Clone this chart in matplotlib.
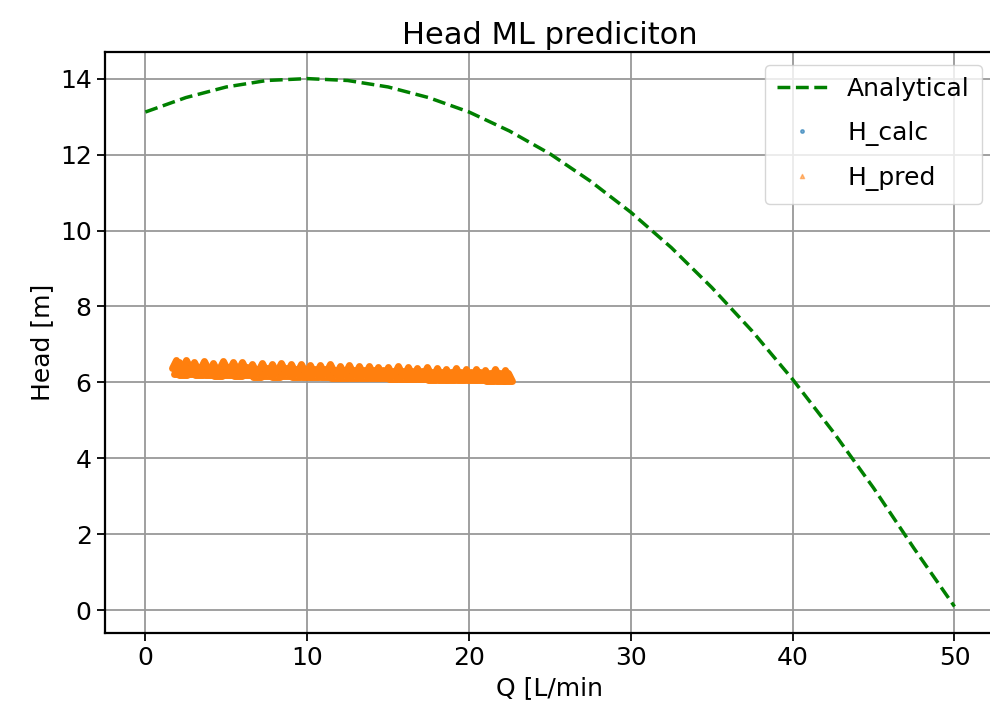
import matplotlib
matplotlib.use("Agg")
import matplotlib.pyplot as plt
from matplotlib.markers import MarkerStyle

# analytical pump curve
Q_an = [0, 2.5, 5, 7.5, 10, 12.5, 15, 17.5, 20, 22.5, 25, 27.5, 30,
        32.5, 35, 37.5, 40, 42.5, 45, 47.5, 50]
H_an = [13.12, 13.5, 13.78, 13.95, 14.0, 13.95, 13.78, 13.5, 13.12, 12.62, 12.02, 11.3, 10.48,
        9.55, 8.5, 7.35, 6.08, 4.7, 3.22, 1.63, 0.1]

# measured / predicted points
Q_data = [1.9, 2.0, 2.1, 2.3, 2.5, 2.8, 3.0, 3.3, 3.6, 3.9, 4.2, 4.5, 4.8, 5.1, 5.4, 5.7,
          6.0, 6.3, 6.6, 6.9, 7.2, 7.5, 7.8, 8.1, 8.4, 8.7, 9.0, 9.3, 9.6, 9.9, 10.2, 10.5,
          10.8, 11.1, 11.4, 11.7, 12.0, 12.3, 12.6, 12.9, 13.2, 13.5, 13.8, 14.1, 14.4, 14.7,
          15.0, 15.3, 15.6, 15.9, 16.2, 16.5, 16.8, 17.1, 17.4, 17.7, 18.0, 18.3, 18.6, 18.9,
          19.2, 19.5, 19.8, 20.1, 20.4, 20.7, 21.0, 21.3, 21.6, 21.9, 22.2, 22.4]
H_calc = [6.40, 6.38, 6.39, 6.37, 6.40, 6.38, 6.37, 6.36, 6.38, 6.36, 6.35, 6.34, 6.37, 6.35, 6.34, 6.33,
          6.35, 6.33, 6.32, 6.31, 6.33, 6.32, 6.31, 6.30, 6.32, 6.30, 6.30, 6.29, 6.31, 6.29, 6.29, 6.28,
          6.28, 6.27, 6.29, 6.26, 6.27, 6.26, 6.27, 6.25, 6.26, 6.25, 6.26, 6.24, 6.25, 6.24,
          6.24, 6.23, 6.25, 6.23, 6.23, 6.22, 6.22, 6.21, 6.23, 6.21, 6.21, 6.20, 6.21, 6.19,
          6.21, 6.19, 6.20, 6.18, 6.19, 6.18, 6.18, 6.17, 6.18, 6.16, 6.17, 6.16]
H_pred = [6.48, 6.32, 6.44, 6.30, 6.49, 6.32, 6.43, 6.29, 6.46, 6.31, 6.41, 6.28, 6.47, 6.30, 6.42, 6.28,
          6.43, 6.29, 6.39, 6.26, 6.40, 6.28, 6.38, 6.26, 6.41, 6.27, 6.37, 6.25, 6.39, 6.26, 6.36, 6.24,
          6.35, 6.25, 6.37, 6.23, 6.33, 6.23, 6.35, 6.22, 6.32, 6.22, 6.34, 6.21, 6.31, 6.21,
          6.30, 6.20, 6.32, 6.20, 6.29, 6.19, 6.28, 6.19, 6.30, 6.18, 6.27, 6.18, 6.26, 6.17,
          6.27, 6.17, 6.25, 6.16, 6.24, 6.16, 6.23, 6.15, 6.24, 6.15, 6.21, 6.14]

plt.rcParams['font.size'] = 18

fig = plt.figure(figsize=(9.9, 7.25), dpi=100)
ax = fig.add_axes([0.106, 0.127, 0.899, 0.801])

ax.plot(Q_an, H_an, 'g--', linewidth=2.5, label='Analytical')
ax.plot(Q_data, H_calc, '.', markersize=10, label='H_calc')
ax.plot(Q_data, H_pred, linestyle='none', marker=MarkerStyle('^', joinstyle='round'),
        markersize=6, markeredgewidth=5, label='H_pred')

ax.set_title('Head ML prediciton', fontsize=22)
ax.set_xlabel('Q [L/min')
ax.set_ylabel('Head [m]')
ax.grid(True, linewidth=1.3, color='#999999')
for s in ax.spines.values():
    s.set_linewidth(1.6)
ax.tick_params(width=1.3, length=6)

leg = ax.legend(loc='upper right', markerscale=0.5, handlelength=2.0,
                labelspacing=0.8, borderpad=0.5)
leg.legend_handles[1].set_alpha(0.6)
leg.legend_handles[2].set_alpha(0.5)
leg.legend_handles[2].set_markeredgewidth(1)

fig.savefig('out.png', dpi=100)
